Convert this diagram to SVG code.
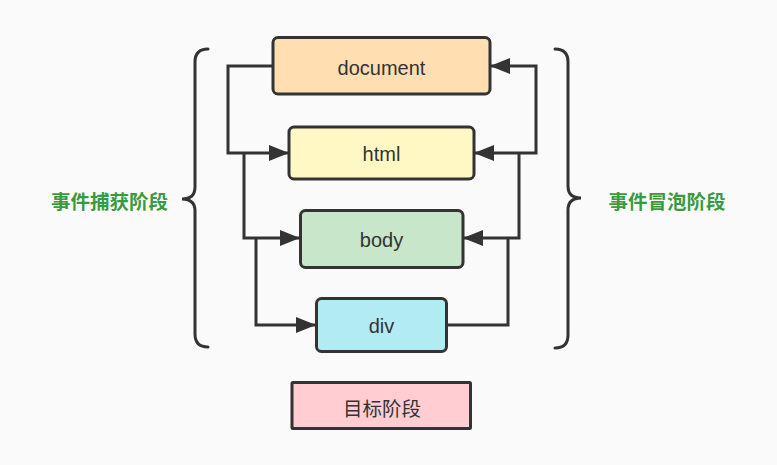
<svg xmlns="http://www.w3.org/2000/svg" width="777" height="465" viewBox="0 0 777 465">
<style>
.node{stroke:#333;stroke-width:3}
.lbl{font-family:"Liberation Sans",Arial,sans-serif;font-size:20px;fill:#333;text-anchor:middle}
.cjk{font-family:"Noto Sans CJK SC",sans-serif;font-size:19.5px;text-anchor:middle;dominant-baseline:central}
.phase{fill:#3a9a40;font-weight:bold}
.conn{fill:none;stroke:#333;stroke-width:3;stroke-linejoin:miter}
.brace{fill:none;stroke:#333;stroke-width:3;stroke-linecap:round}
</style>
<defs>
<marker id="arr" markerUnits="userSpaceOnUse" viewBox="0 0 20 16" refX="20" refY="8" markerWidth="20" markerHeight="16" orient="auto-start-reverse">
<path d="M0,0 L20,8 L0,16 Z" fill="#333"/>
</marker>
</defs>
<rect width="777" height="465" fill="#fafafa"/>
<g id="connectors">
<path class="conn" d="M273,66 H228 V153 H289" marker-end="url(#arr)"/>
<path class="conn" d="M244,153 V238 H300" marker-end="url(#arr)"/>
<path class="conn" d="M256,238 V325 H316" marker-end="url(#arr)"/>
<path class="conn" d="M447,325 H508 V238"/>
<path class="conn" d="M519,153 V238 H463" marker-end="url(#arr)"/>
<path class="conn" d="M490,66 H536 V153 H474" marker-start="url(#arr)" marker-end="url(#arr)"/>
</g>
<g id="document">
<rect class="node" x="273" y="37.5" width="217" height="56.5" rx="5" fill="#ffdfb2"/>
<text class="lbl" x="381.5" y="75">document</text>
</g>
<g id="html">
<rect class="node" x="289" y="127" width="185" height="52" rx="5" fill="#fff8c4"/>
<text class="lbl" x="381.5" y="161">html</text>
</g>
<g id="body">
<rect class="node" x="300.5" y="210.5" width="162.5" height="57" rx="5" fill="#c8e6c9"/>
<text class="lbl" x="381.5" y="247">body</text>
</g>
<g id="div">
<rect class="node" x="316.5" y="298.5" width="130" height="53" rx="5" fill="#b3ebf3"/>
<text class="lbl" x="381.5" y="333">div</text>
</g>
<g id="target">
<rect class="node" x="292" y="382.5" width="178.5" height="46" rx="1" fill="#ffcdd2"/>
<text class="cjk" x="382" y="407" fill="#333">目标阶段</text>
</g>
<g id="capture">
<path class="brace" d="M208,49 Q195,49 195,62 V187 Q195,199 182,199 Q195,199 195,211 V334 Q195,347 208,347"/>
<text class="cjk phase" x="109.5" y="200">事件捕获阶段</text>
</g>
<g id="bubble">
<path class="brace" d="M555,49 Q568,49 568,62 V186 Q568,198 581,198 Q568,198 568,210 V335 Q568,348 555,348"/>
<text class="cjk phase" x="667" y="200">事件冒泡阶段</text>
</g>
</svg>
